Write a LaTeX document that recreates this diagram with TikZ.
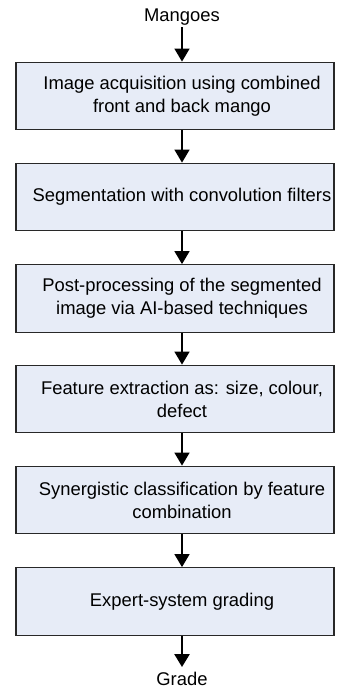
\documentclass[tikz,border=0pt]{standalone}
\usepackage{fontspec}
\setmainfont{Liberation Sans}
\usetikzlibrary{arrows.meta}

\definecolor{boxfill}{RGB}{231,236,247}
\definecolor{boxline}{RGB}{40,40,40}

\tikzset{
    stagebox/.style={draw=boxline, line width=1.3pt, fill=boxfill,
        minimum width=318pt, minimum height=67.5pt, inner sep=0pt},
    stagetext/.style={align=center, font=\fontsize{18.4}{23}\selectfont},
    flow/.style={->, line width=1.5pt},
    endflow/.style={->, line width=2.5pt}
}

\begin{document}
\begin{tikzpicture}[x=1pt, y=-1pt, >={Triangle[length=13pt, width=15pt]}]

            \useasboundingbox (0,0) rectangle (339,690);

            % Input and output
            \node[stagetext, inner sep=2pt] (mangoes) at (182,17) {Mangoes};
            \node[stagetext, inner ysep=5pt] (grade) at (182,679) {Grade};

            % The processing stages
            \node[stagebox] (acq) at (175,96) {};
            \node[stagetext] (acqtext) at (182,96)
                {Image acquisition using combined\\front and back mango};
            \node[stagebox] (seg) at (175,197) {};
            \node[stagetext] (segtext) at (182,197)
                {Segmentation with convolution filters};
            \node[stagebox] (post) at (175,298.5) {};
            \node[stagetext] (posttext) at (182,298.5)
                {Post-processing of the segmented\\image via AI-based techniques};
            \node[stagebox] (feat) at (175,399) {};
            \node[stagetext] (feattext) at (182,399)
                {Feature extraction as: size, colour,\\defect};
            \node[stagebox] (syn) at (175,500) {};
            \node[stagetext] (syntext) at (182,500)
                {Synergistic classification by feature\\combination};
            \node[stagebox] (exp) at (175,601.5) {};
            \node[stagetext] (exptext) at (182,601.5)
                {Expert-system grading};

            % Arrows between the stages
            \draw[flow] (mangoes.south) -- (acq.north -| mangoes);
            \draw[flow] (acq.south -| mangoes) -- (seg.north -| mangoes);
            \draw[flow] (seg.south -| mangoes) -- (post.north -| mangoes);
            \draw[flow] (post.south -| mangoes) -- (feat.north -| mangoes);
            \draw[flow] (feat.south -| mangoes) -- (syn.north -| mangoes);
            \draw[flow] (syn.south -| mangoes) -- (exp.north -| mangoes);
            \draw[endflow] (exp.south -| mangoes) -- (grade.north);

        \end{tikzpicture}
\end{document}
